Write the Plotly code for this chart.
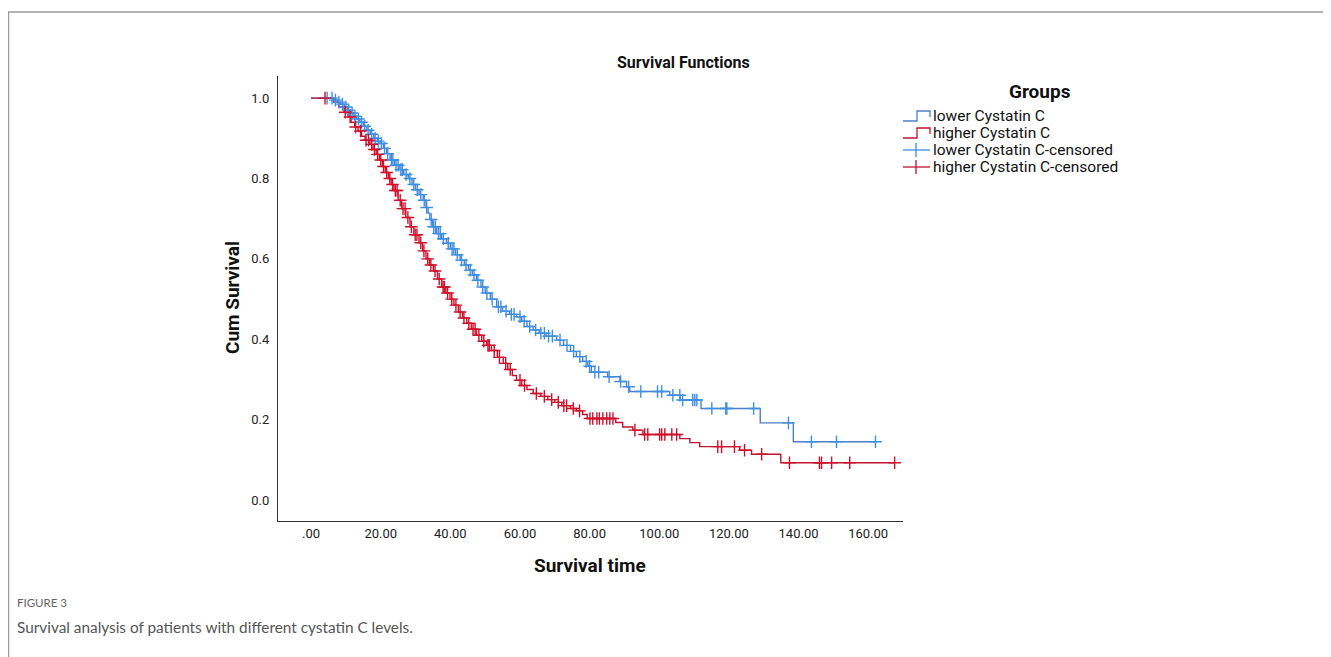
import plotly.graph_objects as go

# ---------------- data ----------------
GROUPS = ["lower Cystatin C", "higher Cystatin C"]
CENSOR_LABELS = ["lower Cystatin C-censored", "higher Cystatin C-censored"]

# Kaplan-Meier step points: time of event, survival after the event
BLUE_T = [6.5, 7.5, 8.5, 9.5, 10.5, 11.5, 12.3, 13.1, 14, 15, 16, 17, 18, 19, 19.8, 20.8, 21.7, 22.7,
          24, 25.3, 26.6, 27.9, 29, 30, 31, 32.2, 33, 33.6, 34.1, 34.8, 36.1, 37.5, 38.9, 40, 41.5, 42.8,
          44, 45.2, 46.3, 47.5, 48.8, 50, 51.5, 53.3, 55, 57, 59, 60.5, 62, 63.8, 65.5, 67.5, 70.5, 72.5,
          74.5, 76.2, 78, 79.5, 80.5, 85.2, 88.7, 90.6, 91.5, 103, 106, 112, 129, 138.5]
BLUE_S = [0.995, 0.99, 0.985, 0.978, 0.97, 0.963, 0.955, 0.948, 0.94, 0.93, 0.92, 0.91, 0.9, 0.893, 0.887,
          0.875, 0.862, 0.846, 0.833, 0.822, 0.81, 0.8, 0.785, 0.772, 0.76, 0.746, 0.728, 0.714, 0.698, 0.68,
          0.663, 0.65, 0.639, 0.625, 0.61, 0.597, 0.585, 0.572, 0.56, 0.547, 0.53, 0.515, 0.5, 0.481, 0.47,
          0.462, 0.456, 0.445, 0.432, 0.423, 0.415, 0.408, 0.398, 0.385, 0.37, 0.357, 0.345, 0.333, 0.318,
          0.307, 0.295, 0.282, 0.27, 0.261, 0.249, 0.228, 0.192, 0.145]
RED_T = [6.5, 8, 9.5, 10.6, 11.5, 12.5, 13.5, 14.5, 15.5, 16.9, 17.8, 18.7, 19.6, 20.5, 21.3, 22.2, 23, 23.8,
         25, 26, 27.2, 28.4, 29.5, 31, 32, 33, 34, 35.1, 36.3, 37.5, 38.7, 39.9, 41, 42.3, 43.5, 44.7, 46,
         47.5, 49, 50.4, 51.8, 53.5, 55.2, 56.5, 57.8, 59, 60.5, 62, 63.8, 66, 68, 70, 72, 74.5, 76.2, 78,
         79.3, 87.5, 89.5, 92.4, 95.3, 105.9, 108.8, 111.6, 123.1, 126.5, 134.9]
RED_S = [0.99, 0.978, 0.965, 0.953, 0.94, 0.928, 0.918, 0.905, 0.895, 0.885, 0.872, 0.86, 0.846, 0.83, 0.815,
         0.8, 0.785, 0.77, 0.746, 0.725, 0.703, 0.68, 0.66, 0.64, 0.62, 0.6, 0.585, 0.57, 0.55, 0.53, 0.515,
         0.5, 0.485, 0.468, 0.453, 0.44, 0.425, 0.41, 0.395, 0.385, 0.372, 0.355, 0.34, 0.325, 0.31, 0.298,
         0.285, 0.275, 0.265, 0.258, 0.25, 0.243, 0.235, 0.228, 0.222, 0.213, 0.203, 0.193, 0.182, 0.174,
         0.163, 0.153, 0.143, 0.133, 0.124, 0.114, 0.093]

# censoring times
BLUE_CENS = [4.6, 6.0, 7.0, 8.0, 9.0, 10.0, 10.8, 11.8, 12.6, 13.6, 14.5, 15.4, 16.4, 17.4, 18.4, 19.3, 20.2,
             21.1, 22.0, 23.1, 23.5, 24.4, 25.0, 25.8, 26.2, 27.3, 28.4, 29.5, 30.5, 31.5, 32.5, 33.2, 34.5,
             35.2, 35.7, 36.6, 37.1, 38.0, 39.4, 40.5, 41.0, 42.0, 43.2, 44.5, 45.7, 46.8, 47.9, 49.3, 50.5,
             52.0, 53.8, 54.5, 56.0, 57.5, 58.3, 60.0, 61.2, 62.8, 64.5, 66.0, 67.0, 68.2, 69.3, 71.5, 73.5,
             75.4, 77.2, 79.0, 80.0, 81.5, 82.6, 85.6, 88.9, 91.2, 94.7, 99.5, 100.7, 103.9, 105.9, 106.7,
             109.6, 110.2, 110.8, 115.1, 119.1, 119.4, 127.1, 137.1, 143.7, 150.9, 162.1]
RED_CENS = [4.0, 9.8, 11.2, 12.8, 14.2, 15.8, 16.5, 17.4, 18.2, 19.1, 20.0, 20.8, 21.7, 22.6, 23.4, 24.2, 24.7,
            25.6, 26.4, 27.0, 27.8, 28.8, 29.9, 30.4, 31.5, 32.4, 33.5, 34.4, 35.6, 36.8, 37.9, 38.3, 39.2,
            40.4, 41.6, 42.8, 43.9, 45.3, 46.5, 47.1, 48.2, 49.6, 50.8, 51.2, 52.6, 54.1, 55.9, 57.2, 60.0,
            61.3, 64.7, 67.0, 69.1, 71.0, 72.6, 73.4, 75.3, 77.1, 80.1, 80.9, 82.1, 82.8, 83.8, 84.9, 85.8,
            86.7, 93.0, 95.8, 96.7, 100.1, 100.7, 101.6, 103.6, 105.0, 116.8, 117.9, 121.6, 124.5, 129.4,
            137.4, 146.0, 146.6, 149.5, 154.7, 167.6]

X_TICKVALS = [0, 20, 40, 60, 80, 100, 120, 140, 160]
X_TICKTEXT = [".00", "20.00", "40.00", "60.00", "80.00", "100.00", "120.00", "140.00", "160.00"]
Y_TICKVALS = [0.0, 0.2, 0.4, 0.6, 0.8, 1.0]
Y_TICKTEXT = ["0.0", "0.2", "0.4", "0.6", "0.8", "1.0"]

TITLE = "Survival Functions"
X_TITLE = "Survival time"
Y_TITLE = "Cum Survival"
LEGEND_TITLE = "Groups"
CAPTION_LABEL = "FIGURE 3"
CAPTION = "Survival analysis of patients with different cystatin C levels."

# ---------------- styling ----------------
BLUE_LINE = "#4d7fc2"
BLUE_MARK = "#3d8fe3"
RED_LINE = "#c0142f"
RED_MARK = "#d0102a"
FONT = "Roboto"

# the page body has an 8px margin: work in screen pixels, convert to figure pixels
OFF = 8
W, H = 1331 - OFF, 657 - OFF
SL, SR, ST, SB = 278, 903, 76, 521   # plot area in screen pixels
PL, PR, PT, PB = SL - OFF, SR - OFF, ST - OFF, SB - OFF
X_RANGE = [-9.5, 170]
Y_RANGE = [-0.052, 1.055]


def px(X):
    return (X - OFF - PL) / (PR - PL)


def py(Y):
    return (PB - (Y - OFF)) / (PB - PT)


def surv_at(times, surv, t):
    s = 1.0
    for ti, si in zip(times, surv):
        if ti <= t:
            s = si
    return s


assert len(BLUE_T) == len(BLUE_S) and len(RED_T) == len(RED_S)

fig = go.Figure()

curves = [
    (BLUE_T, BLUE_S, BLUE_CENS, BLUE_LINE, BLUE_MARK),
    (RED_T, RED_S, RED_CENS, RED_LINE, RED_MARK),
]
for (T, S, C, lc, mc), name in zip(curves, GROUPS):
    end_t = max(C[-1], T[-1])
    xs = [0] + T + [end_t]
    ys = [1.0] + S + [S[-1]]
    fig.add_trace(go.Scatter(x=xs, y=ys, mode="lines", line=dict(color=lc, width=1.4, shape="hv"),
                             name=name, showlegend=False, hoverinfo="skip"))
for (T, S, C, lc, mc), cname in zip(curves, CENSOR_LABELS):
    fig.add_trace(go.Scatter(x=C, y=[surv_at(T, S, c) for c in C], mode="markers",
                             marker=dict(symbol="cross-thin", size=9, line=dict(color=mc, width=1.4)),
                             name=cname, showlegend=False, hoverinfo="skip"))

shapes = []
annotations = []

# page frame
shapes.append(dict(type="line", xref="paper", yref="paper", x0=px(8.5), x1=px(8.5), y0=py(12), y1=py(680),
                   line=dict(color="#9a9a9a", width=1.5)))
shapes.append(dict(type="line", xref="paper", yref="paper", x0=px(8), x1=px(1340), y0=py(12), y1=py(12),
                   line=dict(color="#9a9a9a", width=1.5)))

# legend (drawn manually)
annotations.append(dict(text="<b>" + LEGEND_TITLE + "</b>", xref="paper", yref="paper", x=px(1040), y=py(92),
                        xanchor="center", yanchor="middle", showarrow=False,
                        font=dict(family=FONT, size=19, color="#111")))
rows = [116, 133, 150, 167]
legend_items = [(GROUPS[0], BLUE_LINE, "step"), (GROUPS[1], RED_LINE, "step"),
                (CENSOR_LABELS[0], BLUE_MARK, "cross"), (CENSOR_LABELS[1], RED_LINE, "cross")]
for ry, (label, col, kind) in zip(rows, legend_items):
    if kind == "step":
        path = "M {a},{b} L {c},{b} L {c},{d} L {e},{d} L {e},{f}".format(
            a=px(903), b=py(ry + 5), c=px(917), d=py(ry - 5), e=px(930), f=py(ry + 1))
        shapes.append(dict(type="path", xref="paper", yref="paper", path=path,
                           line=dict(color=col, width=1.3)))
    else:
        shapes.append(dict(type="line", xref="paper", yref="paper", x0=px(903), x1=px(930), y0=py(ry), y1=py(ry),
                           line=dict(color=col, width=1.3)))
        shapes.append(dict(type="line", xref="paper", yref="paper", x0=px(916), x1=px(916), y0=py(ry - 7),
                           y1=py(ry + 7), line=dict(color=col, width=1.3)))
    annotations.append(dict(text=label, xref="paper", yref="paper", x=px(931), y=py(ry), xanchor="left",
                            yanchor="middle", showarrow=False, font=dict(family=FONT, size=15.5, color="#111")))

# title & axis titles
annotations.append(dict(text="<b>" + TITLE + "</b>", xref="paper", yref="paper", x=px(683), y=py(62),
                        xanchor="center", yanchor="middle", showarrow=False,
                        font=dict(family=FONT, size=16, color="#111")))
annotations.append(dict(text="<b>" + X_TITLE + "</b>", xref="paper", yref="paper", x=px(590), y=py(565),
                        xanchor="center", yanchor="middle", showarrow=False,
                        font=dict(family=FONT, size=19, color="#111")))
annotations.append(dict(text="<b>" + Y_TITLE + "</b>", xref="paper", yref="paper", x=px(232), y=py(298),
                        xanchor="center", yanchor="middle", showarrow=False, textangle=-90,
                        font=dict(family=FONT, size=19, color="#111")))

# caption
annotations.append(dict(text=CAPTION_LABEL, xref="paper", yref="paper", x=px(15), y=py(602),
                        xanchor="left", yanchor="middle", showarrow=False,
                        font=dict(family="Lato", size=11.5, color="#666666")))
annotations.append(dict(text=CAPTION, xref="paper", yref="paper", x=px(15), y=py(627),
                        xanchor="left", yanchor="middle", showarrow=False,
                        font=dict(family="Lato", size=15.35, color="#555555")))

fig.update_layout(
    width=W, height=H, autosize=False,
    margin=dict(l=PL, r=W - PR, t=PT, b=H - PB, pad=0),
    paper_bgcolor="white", plot_bgcolor="white",
    showlegend=False,
    shapes=shapes, annotations=annotations,
    xaxis=dict(range=X_RANGE, tickvals=X_TICKVALS, ticktext=X_TICKTEXT, showgrid=False, zeroline=False,
               showline=True, linecolor="#333", linewidth=1.2, ticks="",
               tickfont=dict(family=FONT, size=13, color="#222")),
    yaxis=dict(range=Y_RANGE, tickvals=Y_TICKVALS, ticktext=Y_TICKTEXT, showgrid=False, zeroline=False,
               showline=True, linecolor="#333", linewidth=1.2, ticks="outside", ticklen=5,
               tickcolor="rgba(0,0,0,0)", tickfont=dict(family=FONT, size=13, color="#222")),
)

fig.write_html("out.html")
